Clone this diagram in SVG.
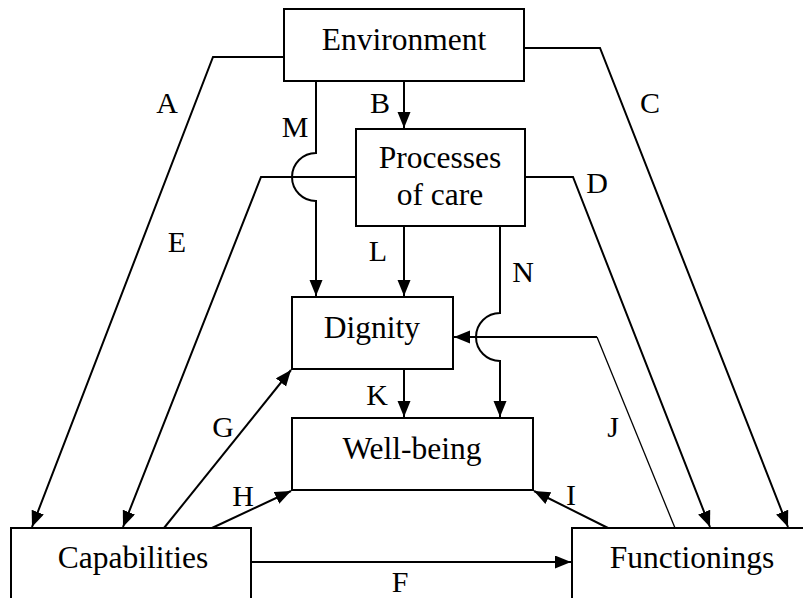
<svg xmlns="http://www.w3.org/2000/svg" width="803" height="598" viewBox="0 0 803 598">
<style>
.box{fill:#fff;stroke:#000;stroke-width:2}
.c{fill:none;stroke:#000;stroke-width:2}
.thin{fill:none;stroke:#000;stroke-width:1.3}
.t{font-family:'Liberation Serif','Times New Roman',serif;font-size:31.5px;fill:#000;text-anchor:middle}
.lb{font-family:'Liberation Serif','Times New Roman',serif;font-size:30px;fill:#000;text-anchor:middle}
</style>
<defs>
<marker id="ah" markerUnits="userSpaceOnUse" markerWidth="17" markerHeight="14" refX="16" refY="6.5" orient="auto">
<path d="M0,0 L16,6.5 L0,13 z" fill="#000"/>
</marker>
</defs>
<rect width="803" height="598" fill="#fff"/>
<g id="connectors">
<path class="c" d="M284,57 L213,57 L32,527" marker-end="url(#ah)"/>
<path class="c" d="M524,48 L600,48 L788,527" marker-end="url(#ah)"/>
<path class="c" d="M404,81 L404,128" marker-end="url(#ah)"/>
<path class="c" d="M316,81 L316,153 A24,24 0 0 0 316,201 L316,296" marker-end="url(#ah)"/>
<path class="c" d="M356,177 L261,177 L123,527" marker-end="url(#ah)"/>
<path class="c" d="M525,177 L573,177 L710,527" marker-end="url(#ah)"/>
<path class="c" d="M404,226 L404,296" marker-end="url(#ah)"/>
<path class="c" d="M500,226 L500,313 A24,24 0 0 0 500,361 L500,417" marker-end="url(#ah)"/>
<path class="thin" d="M675,528 L597,337"/>
<path class="c" d="M597,337 L454,337" marker-end="url(#ah)"/>
<path class="c" d="M404,369 L404,417" marker-end="url(#ah)"/>
<path class="c" d="M164,528 L291,370" marker-end="url(#ah)"/>
<path class="c" d="M212,528 L291,491" marker-end="url(#ah)"/>
<path class="c" d="M608,528 L534,491" marker-end="url(#ah)"/>
<path class="c" d="M251,562 L571,562" marker-end="url(#ah)"/>
<text class="lb" x="167" y="113">A</text>
<text class="lb" x="380" y="113">B</text>
<text class="lb" x="650" y="113">C</text>
<text class="lb" x="295" y="137">M</text>
<text class="lb" x="597" y="193">D</text>
<text class="lb" x="177" y="252">E</text>
<text class="lb" x="378" y="261">L</text>
<text class="lb" x="523" y="282">N</text>
<text class="lb" x="377" y="405">K</text>
<text class="lb" x="223" y="437">G</text>
<text class="lb" x="613" y="437">J</text>
<text class="lb" x="243" y="506">H</text>
<text class="lb" x="571" y="505">I</text>
<text class="lb" x="400" y="592">F</text>
</g>
<g id="environment">
<rect class="box" x="284" y="9" width="240" height="72"/>
<text class="t" x="404" y="50">Environment</text>
</g>
<g id="processes">
<rect class="box" x="356" y="129" width="169" height="97"/>
<text class="t" x="440" y="168">Processes</text>
<text class="t" x="440" y="205">of care</text>
</g>
<g id="dignity">
<rect class="box" x="292" y="297" width="161" height="72"/>
<text class="t" x="372" y="338">Dignity</text>
</g>
<g id="wellbeing">
<rect class="box" x="292" y="418" width="241" height="72"/>
<text class="t" x="412" y="459">Well-being</text>
</g>
<g id="capabilities">
<rect class="box" x="11" y="528" width="240" height="90"/>
<text class="t" x="133" y="568">Capabilities</text>
</g>
<g id="functionings">
<rect class="box" x="572" y="528" width="250" height="90"/>
<text class="t" x="692" y="568">Functionings</text>
</g>
</svg>
